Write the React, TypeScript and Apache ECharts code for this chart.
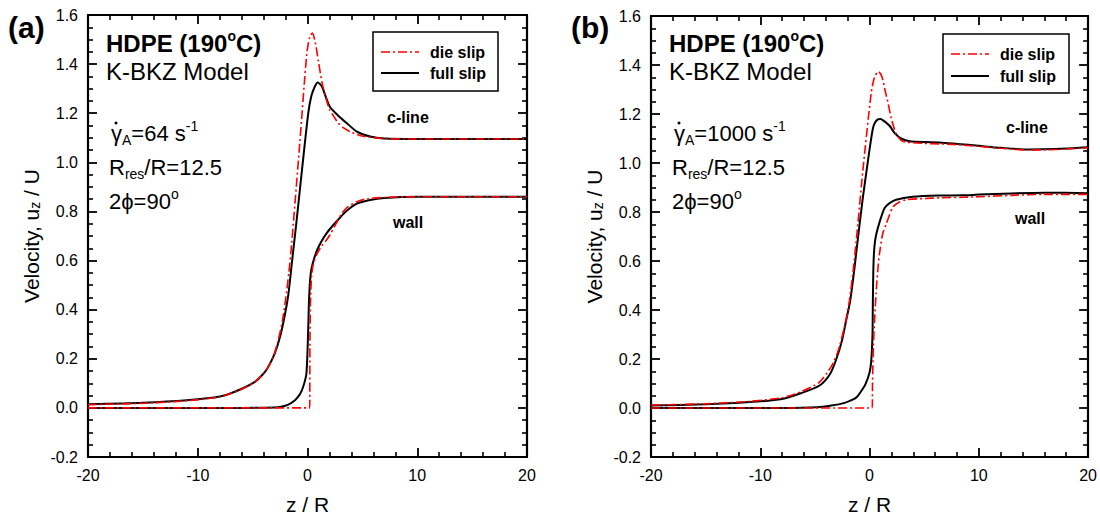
import React, { useEffect, useRef } from "react";
import * as echarts from "echarts";

const FONT = "'Liberation Sans', Arial, Helvetica, sans-serif";

// ---- data ----
const seriesNames = ["die slip", "full slip"];
const panelLabels = ["(a)", "(b)"];
const shearRates = ["64", "1000"];
const curveLabels = ["c-line", "wall"];
const xRange = [-20, 20];
const yRange = [-0.2, 1.6];

// panel (a): shear rate 64 1/s
const aClineDie: number[][] = [[-20,0.013],[-15,0.019],[-11,0.029],[-8,0.045],[-6.3,0.07],[-4.8,0.105],[-4,0.14],[-3.6,0.165],[-3.1,0.21],[-2.7,0.27],[-2.3,0.35],[-2.0,0.44],[-1.7,0.55],[-1.44,0.67],[-0.7,1.08],[-0.07,1.44],[0.2,1.51],[0.44,1.526],[0.7,1.49],[1.0,1.41],[1.3,1.33],[1.6,1.275],[2.0,1.215],[2.35,1.19],[2.8,1.16],[3.3,1.14],[4.0,1.122],[5.1,1.106],[7,1.097],[10,1.095],[15,1.095],[20,1.095]];
const aClineFull: number[][] = [[-20,0.015],[-15,0.021],[-11,0.031],[-8,0.046],[-6.3,0.072],[-4.8,0.106],[-4,0.14],[-3.6,0.165],[-3.0,0.22],[-2.5,0.29],[-2.1,0.37],[-1.75,0.46],[-1.4,0.6],[-1.0,0.76],[-0.5,0.97],[0.07,1.2],[0.35,1.27],[0.68,1.31],[0.93,1.325],[1.3,1.31],[1.6,1.275],[2.05,1.225],[2.8,1.19],[3.57,1.16],[4.5,1.125],[5.7,1.105],[7,1.097],[10,1.095],[20,1.095]];
const aWallDie: number[][] = [[-20,0],[0.2,0],[0.22,0.25],[0.28,0.45],[0.38,0.54],[0.55,0.59],[0.9,0.63],[1.3,0.66],[1.75,0.685],[2.05,0.705],[2.6,0.75],[3.1,0.79],[3.57,0.815],[4.5,0.84],[5.5,0.852],[7,0.857],[10,0.86],[20,0.86]];
const aWallFull: number[][] = [[-20,0],[-6,0],[-3,0.002],[-2.4,0.005],[-1.8,0.012],[-1.17,0.03],[-0.7,0.055],[-0.4,0.085],[-0.1,0.14],[0.05,0.3],[0.15,0.45],[0.3,0.55],[0.55,0.6],[0.9,0.645],[1.29,0.68],[1.8,0.715],[2.66,0.76],[3.5,0.8],[4.5,0.832],[5.7,0.847],[7,0.855],[10,0.86],[20,0.86]];

// panel (b): shear rate 1000 1/s
const bClineDie: number[][] = [[-20,0.012],[-15,0.017],[-11,0.027],[-8,0.042],[-6.3,0.066],[-4.6,0.105],[-3.5,0.17],[-2.9,0.23],[-2.3,0.33],[-1.9,0.42],[-1.5,0.56],[-1.07,0.75],[-0.61,0.97],[0.15,1.285],[0.45,1.35],[0.82,1.373],[1.15,1.35],[1.4,1.3],[1.67,1.25],[2.0,1.18],[2.43,1.12],[2.9,1.092],[3.35,1.085],[5,1.08],[6.4,1.078],[8,1.075],[10,1.068],[12,1.06],[14.6,1.053],[17,1.055],[20,1.062]];
const bClineFull: number[][] = [[-20,0.01],[-15,0.015],[-11,0.024],[-8,0.037],[-6.3,0.06],[-4.57,0.092],[-3.6,0.14],[-3.04,0.2],[-2.5,0.28],[-2.13,0.36],[-1.8,0.43],[-1.52,0.52],[-1.2,0.64],[-0.91,0.75],[-0.61,0.86],[-0.3,0.96],[0,1.055],[0.3,1.14],[0.5,1.165],[0.75,1.178],[1.0,1.18],[1.3,1.172],[1.83,1.152],[2.3,1.122],[2.9,1.1],[3.65,1.089],[4.26,1.087],[6.4,1.084],[8,1.078],[10,1.07],[12,1.062],[14.6,1.055],[17,1.057],[20,1.064]];
const bWallDie: number[][] = [[-20,0],[0.25,0],[0.27,0.1],[0.35,0.25],[0.46,0.36],[0.6,0.47],[0.75,0.56],[0.91,0.63],[1.2,0.71],[1.52,0.75],[1.8,0.785],[2.13,0.82],[2.7,0.84],[3.35,0.85],[5,0.855],[6.4,0.858],[8.5,0.86],[10,0.862],[13,0.868],[16,0.872],[20,0.872]];
const bWallFull: number[][] = [[-20,0],[-8,0],[-4.8,0.003],[-3.5,0.01],[-2.35,0.02],[-1.5,0.035],[-1.12,0.047],[-0.6,0.08],[-0.37,0.097],[0,0.145],[0.15,0.19],[0.27,0.3],[0.3,0.42],[0.34,0.55],[0.4,0.63],[0.5,0.68],[0.62,0.71],[0.76,0.735],[1.07,0.78],[1.37,0.815],[1.8,0.835],[2.43,0.85],[3.95,0.862],[6.4,0.867],[8.5,0.868],[10,0.871],[13,0.876],[16,0.879],[20,0.877]];

const RED = "#ff0000";
const DASHDOT = [9, 3, 2, 3];

function xAxisDef(gridIndex: number, pos: "bottom" | "top") {
  const main = pos === "bottom";
  return {
    type: "value",
    gridIndex,
    position: pos,
    min: xRange[0],
    max: xRange[1],
    interval: 10,
    axisLine: { show: true, onZero: false, lineStyle: { color: "#000", width: 2.2 } },
    axisTick: { show: true, inside: true, length: 9, lineStyle: { color: "#000", width: 1.8 } },
    minorTick: { show: true, splitNumber: 5, length: 5, lineStyle: { color: "#000", width: 1.6 } },
    splitLine: { show: false },
    minorSplitLine: { show: false },
    axisLabel: { show: main, color: "#000", fontSize: 16, fontFamily: FONT, margin: 10 },
    name: main ? "z / R" : "",
    nameLocation: "middle",
    nameGap: 37,
    nameTextStyle: { color: "#000", fontSize: 21, fontFamily: FONT },
  };
}

function yAxisDef(gridIndex: number, pos: "left" | "right") {
  const main = pos === "left";
  return {
    type: "value",
    gridIndex,
    position: pos,
    min: yRange[0],
    max: yRange[1],
    interval: 0.2,
    axisLine: { show: true, onZero: false, lineStyle: { color: "#000", width: 2.2 } },
    axisTick: { show: true, inside: true, length: 9, lineStyle: { color: "#000", width: 1.8 } },
    minorTick: { show: true, splitNumber: 4, length: 5, lineStyle: { color: "#000", width: 1.6 } },
    splitLine: { show: false },
    minorSplitLine: { show: false },
    axisLabel: {
      show: main,
      color: "#000",
      fontSize: 16,
      fontFamily: FONT,
      margin: 10,
      formatter: (v: number) => v.toFixed(1),
    },
    name: main ? "Velocity, u{sub|z} / U" : "",
    nameLocation: "middle",
    nameGap: 46,
    nameTextStyle: {
      color: "#000",
      fontSize: 21,
      fontFamily: FONT,
      rich: { sub: { fontSize: 14, fontFamily: FONT, color: "#000", verticalAlign: "bottom", lineHeight: 12 } },
    },
  };
}

function lineSeries(name: string, data: number[][], axisIdx: number, die: boolean) {
  return {
    type: "line",
    name,
    xAxisIndex: axisIdx,
    yAxisIndex: axisIdx,
    data,
    symbol: "none",
    smooth: 0.25,
    silent: true,
    z: die ? 3 : 2,
    lineStyle: die
      ? { color: RED, width: 1.6, type: DASHDOT }
      : { color: "#000", width: 2 },
  };
}

const baseText = (size: number, bold = false) => ({
  fontFamily: FONT,
  fontSize: size,
  fontWeight: bold ? "bold" : "normal",
  fill: "#000",
});

function panelGraphics(p: number, axisLeft: number, legend: { x: number; y: number; w: number; h: number; r1: number; r2: number }, labels: { cx: number; cy: number; wx: number; wy: number }) {
  const tx = axisLeft + 18;
  const supRich = (size: number, bold = false) => ({
    sup: { ...baseText(size, bold), verticalAlign: "top", lineHeight: 12 },
    sub: { ...baseText(size, bold), verticalAlign: "bottom", lineHeight: 12 },
  });
  const txt = (x: number, y: number, text: string, size: number, bold = false, rich = true, subSize = 14) => ({
    type: "text",
    x,
    y,
    silent: true,
    style: {
      text,
      ...baseText(size, bold),
      verticalAlign: "middle",
      lineHeight: 28,
      rich: rich ? supRich(subSize, bold) : undefined,
    },
  });
  const els: any[] = [
    txt(axisLeft - 80, 27, panelLabels[p], 30, true, false),
    txt(tx, 43, "HDPE (190{sup|o}C)", 24, true, true, 14),
    txt(tx, 71, "K-BKZ Model", 24, false, false),
    txt(tx + 5, 133, "\u03B3{sub|A}=" + shearRates[p] + " s{sup|-1}", 22),
    {
      type: "circle",
      silent: true,
      shape: { cx: tx + 10, cy: 123, r: 1.5 },
      style: { fill: "#000" },
    },
    txt(tx + 3, 167, "R{sub|res}/R=12.5", 22),
    txt(tx + 3, 201, "2\u03D5=90{sup|o}", 22),
    txt(labels.cx, labels.cy, curveLabels[0], 16, true, false),
    txt(labels.wx, labels.wy, curveLabels[1], 16, true, false),
    {
      type: "rect",
      silent: true,
      shape: { x: legend.x, y: legend.y, width: legend.w, height: legend.h },
      style: { fill: "#fff", stroke: "#000", lineWidth: 1.5 },
      z: 10,
    },
    {
      type: "line",
      silent: true,
      shape: { x1: legend.x + 8, y1: legend.r1, x2: legend.x + 46, y2: legend.r1 },
      style: { stroke: RED, lineWidth: 1.6, lineDash: DASHDOT },
      z: 11,
    },
    {
      type: "line",
      silent: true,
      shape: { x1: legend.x + 8, y1: legend.r2, x2: legend.x + 46, y2: legend.r2 },
      style: { stroke: "#000", lineWidth: 2 },
      z: 11,
    },
    { ...txt(legend.x + 57, legend.r1, seriesNames[0], 16, true, false), z: 11 },
    { ...txt(legend.x + 57, legend.r2, seriesNames[1], 16, true, false), z: 11 },
  ];
  return els;
}

export default function App() {
  const ref = useRef<HTMLDivElement>(null);
  useEffect(() => {
    if (!ref.current) return;
    const chart = echarts.init(ref.current, undefined, { renderer: "svg" });
    const option: any = {
      animation: false,
      backgroundColor: "#fff",
      grid: [
        { left: 88, top: 15, width: 439, height: 442 },
        { left: 651, top: 16, width: 438, height: 443 },
      ],
      xAxis: [xAxisDef(0, "bottom"), xAxisDef(0, "top"), xAxisDef(1, "bottom"), xAxisDef(1, "top")],
      yAxis: [yAxisDef(0, "left"), yAxisDef(0, "right"), yAxisDef(1, "left"), yAxisDef(1, "right")],
      series: [
        lineSeries(seriesNames[1], aClineFull, 0, false),
        lineSeries(seriesNames[1], aWallFull, 0, false),
        lineSeries(seriesNames[0], aClineDie, 0, true),
        lineSeries(seriesNames[0], aWallDie, 0, true),
        lineSeries(seriesNames[1], bClineFull, 2, false),
        lineSeries(seriesNames[1], bWallFull, 2, false),
        lineSeries(seriesNames[0], bClineDie, 2, true),
        lineSeries(seriesNames[0], bWallDie, 2, true),
      ],
      graphic: [
        ...panelGraphics(0, 88, { x: 373, y: 32, w: 125, h: 59, r1: 52, r2: 73 }, { cx: 387, cy: 117, wx: 393, wy: 222 }),
        ...panelGraphics(1, 651, { x: 943, y: 34, w: 126, h: 59, r1: 54, r2: 76 }, { cx: 1006, cy: 127, wx: 1015, wy: 218 }),
      ],
    };
    chart.setOption(option);
    return () => chart.dispose();
  }, []);
  return (
    <div
      ref={ref}
      style={{ position: "absolute", left: 0, top: 0, width: 1100, height: 520, background: "#fff" }}
    />
  );
}
